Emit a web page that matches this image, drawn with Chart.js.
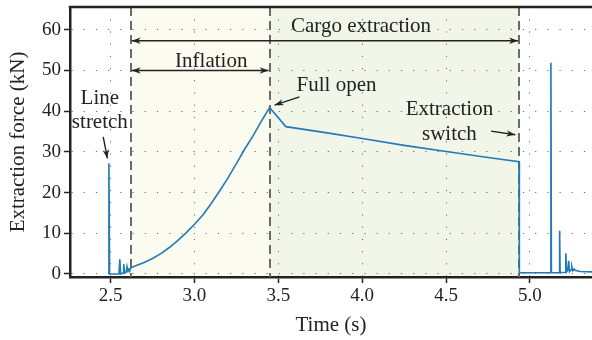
<!DOCTYPE html>
<html>
<head>
<meta charset="utf-8">
<script src="https://cdn.jsdelivr.net/npm/chart.js@4"></script>
<style>
  html, body { margin: 0; padding: 0; background: #fff; }
</style>
</head>
<body>
<canvas id="forceChart" width="592" height="340"></canvas>
<script>
// ----- DATA -----
const timeS = [
  2.488, 2.490, 2.494, 2.550, 2.555, 2.560, 2.574, 2.578, 2.584, 2.594,
  2.598, 2.604, 2.610, 2.615, 2.620, 2.65, 2.70, 2.75, 2.80, 2.85,
  2.90, 2.95, 3.00, 3.05, 3.10, 3.15, 3.20, 3.25, 3.30, 3.35,
  3.40, 3.448, 3.545, 3.80, 4.00, 4.25, 4.50, 4.75, 4.935, 4.937,
  5.00, 5.122, 5.125, 5.128, 5.174, 5.177, 5.180, 5.210, 5.214, 5.218,
  5.226, 5.231, 5.236, 5.245, 5.250, 5.256, 5.264, 5.270, 5.28, 5.30,
  5.37
];
const forceKN = [
  0, 27.2, 0, 0, 3.6, 0, 0.2, 2.4, 0.2, 0.5,
  1.8, 0.7, 1.2, 1.0, 1.5, 2.0, 2.8, 3.8, 5.0, 6.5,
  8.2, 10.1, 12.2, 14.5, 17.3, 20.4, 23.6, 27.1, 30.7, 34.0,
  37.6, 40.9, 36.2, 34.6, 33.3, 31.6, 30.1, 28.6, 27.6, 0.3,
  0.3, 0.3, 51.9, 0.3, 0.3, 10.6, 0.3, 0.4, 5.1, 0.5,
  1.0, 3.2, 0.6, 1.0, 1.8, 0.8, 1.2, 0.9, 0.8, 0.6,
  0.5
];
const yTicks = [0, 10, 20, 30, 40, 50, 60];
const xTicks = [2.5, 3.0, 3.5, 4.0, 4.5, 5.0];
// inflation start, full open, extraction switch
const phaseBounds = [2.62, 3.448, 4.935];

const serif = '"Liberation Serif", "DejaVu Serif", serif';
const ink = "#222";

function arrowHead(ctx, x1, y1, x2, y2) {
  const a = Math.atan2(y2 - y1, x2 - x1);
  const len = 9, half = 3.2;
  ctx.beginPath();
  ctx.moveTo(x2, y2);
  ctx.lineTo(x2 - len * Math.cos(a) + half * Math.sin(a), y2 - len * Math.sin(a) - half * Math.cos(a));
  ctx.lineTo(x2 - len * 0.7 * Math.cos(a), y2 - len * 0.7 * Math.sin(a));
  ctx.lineTo(x2 - len * Math.cos(a) - half * Math.sin(a), y2 - len * Math.sin(a) + half * Math.cos(a));
  ctx.closePath();
  ctx.fill();
}

function arrow(ctx, x1, y1, x2, y2, both) {
  ctx.beginPath();
  ctx.moveTo(x1, y1);
  ctx.lineTo(x2, y2);
  ctx.stroke();
  arrowHead(ctx, x1, y1, x2, y2);
  if (both) arrowHead(ctx, x2, y2, x1, y1);
}

// ----- PHASE BANDS, DASHED MARKERS, NOTES -----
const phasePlugin = {
  id: "phases",
  beforeDraw(chart) {
    const { ctx, chartArea: a, scales: { x } } = chart;
    const p = phaseBounds.map((t) => x.getPixelForValue(t));
    ctx.save();
    ctx.fillStyle = "#fbfbef";
    ctx.fillRect(p[0], a.top, p[1] - p[0], a.bottom - a.top);
    ctx.fillStyle = "#f2f6e8";
    ctx.fillRect(p[1], a.top, p[2] - p[1], a.bottom - a.top);
    ctx.restore();
  },
  beforeDatasetsDraw(chart) {
    const { ctx, chartArea: a, scales: { x } } = chart;
    ctx.save();
    ctx.strokeStyle = "#6a6a6a";
    ctx.lineWidth = 2;
    ctx.setLineDash([9, 5]);
    phaseBounds.forEach((t) => {
      const px = Math.round(x.getPixelForValue(t));
      ctx.beginPath();
      ctx.moveTo(px, a.top);
      ctx.lineTo(px, a.bottom);
      ctx.stroke();
    });
    ctx.restore();
  },
  afterDatasetsDraw(chart) {
    const { ctx, chartArea: a, scales: { x, y } } = chart;
    const X = (t) => x.getPixelForValue(t);
    const Y = (v) => y.getPixelForValue(v);

    ctx.save();
    // top frame line
    ctx.strokeStyle = ink;
    ctx.lineWidth = 2.5;
    ctx.beginPath();
    ctx.moveTo(a.left - 1.25, a.top);
    ctx.lineTo(a.right, a.top);
    ctx.stroke();

    ctx.fillStyle = ink;
    ctx.font = "21px " + serif;
    ctx.textAlign = "center";
    ctx.textBaseline = "middle";
    ctx.fillText("Line", X(2.436), Y(43));
    ctx.fillText("stretch", X(2.436), Y(37.1));
    ctx.fillText("Inflation", X(3.10), Y(52.3));
    ctx.fillText("Cargo extraction", X(3.993), Y(60.7));
    ctx.fillText("Full open", X(3.847), Y(46.4));
    ctx.fillText("Extraction", X(4.52), Y(40.3));
    ctx.fillText("switch", X(4.52), Y(34.2));

    ctx.lineWidth = 1.4;
    arrow(ctx, X(2.456), Y(33.7), X(2.481), Y(28.4));
    arrow(ctx, X(phaseBounds[0]) + 1, Y(50), X(phaseBounds[1]) - 1, Y(50), true);
    arrow(ctx, X(phaseBounds[0]) + 1, Y(57.3), X(phaseBounds[2]) - 1, Y(57.3), true);
    arrow(ctx, X(3.626), Y(43.5), X(3.478), Y(41.5));
    arrow(ctx, X(4.768), Y(35.1), X(4.913), Y(34.2));
    ctx.restore();
  }
};

// ----- CHART -----
const ctx = document.getElementById("forceChart").getContext("2d");

const gridOpts = {
  color: "rgba(60,60,60,0.75)",
  lineWidth: 1,
  tickLength: 6,
  tickColor: ink,
  tickWidth: 1.5,
  tickBorderDash: []
};
const borderOpts = { color: ink, width: 2.5, dash: [1.2, 11] };

new Chart(ctx, {
  type: "line",
  data: {
    datasets: [{
      data: timeS.map((t, i) => ({ x: t, y: forceKN[i] })),
      borderColor: "#2379b8",
      borderWidth: 1.6,
      pointRadius: 0,
      tension: 0,
      fill: false
    }]
  },
  options: {
    responsive: false,
    animation: false,
    devicePixelRatio: 1,
    layout: { padding: { top: 7, right: 0, left: 0, bottom: 0 } },
    plugins: { legend: { display: false }, tooltip: { enabled: false } },
    scales: {
      x: {
        type: "linear",
        min: 2.258,
        max: 5.37,
        grid: gridOpts,
        border: borderOpts,
        afterBuildTicks: (s) => { s.ticks = xTicks.map((v) => ({ value: v })); },
        afterFit: (s) => {
          s.height = 63;
          s.paddingLeft = 0;
          s.paddingRight = 0;
        },
        ticks: {
          color: ink,
          padding: 2,
          maxRotation: 0,
          font: { family: serif, size: 19 },
          callback: (v) => v.toFixed(1)
        },
        title: {
          display: true,
          text: "Time (s)",
          color: ink,
          font: { family: serif, size: 21 },
          padding: { top: 0, bottom: 2 }
        }
      },
      y: {
        min: -0.75,
        max: 65.6,
        grid: gridOpts,
        border: borderOpts,
        afterBuildTicks: (s) => { s.ticks = yTicks.map((v) => ({ value: v })); },
        afterFit: (s) => {
          s.width = 70;
          s.paddingTop = 0;
          s.paddingBottom = 0;
        },
        ticks: {
          color: ink,
          padding: 3,
          font: { family: serif, size: 19 }
        },
        title: {
          display: true,
          text: "Extraction force (kN)",
          color: ink,
          font: { family: serif, size: 21 },
          padding: { top: 6, bottom: 0 }
        }
      }
    }
  },
  plugins: [phasePlugin]
});
</script>
</body>
</html>
